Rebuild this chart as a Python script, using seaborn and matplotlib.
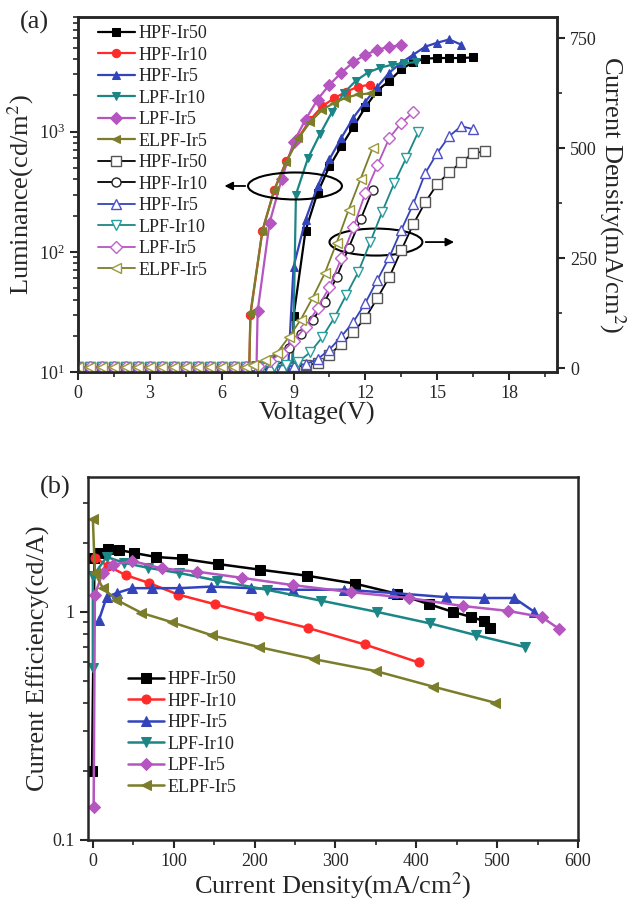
import numpy as np
import pandas as pd
import matplotlib
matplotlib.use('Agg')
import matplotlib.pyplot as plt
from matplotlib.patches import Ellipse
from matplotlib.ticker import MultipleLocator, LogLocator, FixedLocator, NullFormatter, FuncFormatter
import seaborn as sns

sns.set_style('ticks')
plt.rcParams['font.family'] = ['Liberation Serif', 'DejaVu Serif']
plt.rcParams['mathtext.fontset'] = 'stix'

names = ['HPF-Ir50', 'HPF-Ir10', 'HPF-Ir5', 'LPF-Ir10', 'LPF-Ir5', 'ELPF-Ir5']
colors = ['#000000', '#FF2A2A', '#3344BB', '#1C8585', '#B455C0', '#7B7D2A']
open_colors = ['#555555', '#222222', '#5050C8', '#2A9E9E', '#C060C8', '#9A9A3A']
line_open = ['#000000', '#000000', '#3344BB', '#1C8585', '#B455C0', '#7B7D2A']
markers = ['s', 'o', '^', 'v', 'D', '<']

# (a) luminance vs voltage
v_lum = [
    [8.5, 9.0, 9.5, 10.0, 10.5, 11.0, 11.5, 12.0, 12.5, 13.0, 13.5, 14.0, 14.5, 15.0, 15.5, 16.0, 16.5],
    [6.7, 7.2, 7.7, 8.2, 8.7, 9.2, 9.7, 10.2, 10.7, 11.2, 11.7, 12.2],
    [8.5, 9.0, 9.5, 10.0, 10.5, 11.0, 11.5, 12.0, 12.5, 13.0, 13.5, 14.0, 14.5, 15.0, 15.5, 16.0],
    [8.6, 9.1, 9.6, 10.1, 10.6, 11.1, 11.6, 12.1, 12.6, 13.1, 13.6, 14.1],
    [7.0, 7.5, 8.0, 8.5, 9.0, 9.5, 10.0, 10.5, 11.0, 11.5, 12.0, 12.5, 13.0, 13.5],
    [6.7, 7.2, 7.7, 8.2, 8.7, 9.2, 9.7, 10.2, 10.7, 11.2, 11.7, 12.2],
]
lum = [
    [0.001, 29, 150, 310, 515, 760, 1100, 1600, 2200, 2650, 3300, 3800, 4050, 4100, 4100, 4100, 4150],
    [0.001, 30, 150, 330, 570, 890, 1260, 1630, 1900, 2150, 2370, 2460],
    [1, 75, 185, 350, 590, 890, 1310, 1780, 2370, 3100, 3760, 4370, 5100, 5500, 5850, 5300],
    [0.001, 300, 600, 950, 1450, 2100, 2650, 3100, 3400, 3600, 3720, 3780],
    [0.0003, 32, 175, 400, 815, 1260, 1850, 2460, 3100, 3800, 4370, 4800, 5100, 5230],
    [0.001, 31, 150, 330, 560, 880, 1210, 1520, 1740, 1920, 2040, 2080],
]

# (a) current density vs voltage
v_off = [0.0, 0.5, 1.0, 1.5, 2.0, 2.5, 3.0, 3.5, 4.0, 4.5, 5.0, 5.5, 6.0, 6.5, 7.0]
j_off = [2, 2, 2, 2, 2, 2, 2, 2, 2, 2, 2, 2, 2, 2, 2]
v_cur = [
    [7.5, 8.0, 8.5, 9.0, 9.5, 10.0, 10.5, 11.0, 11.5, 12.0, 12.5, 13.0, 13.5, 14.0, 14.5, 15.0, 15.5, 16.0, 16.5, 17.0],
    [7.3, 7.8, 8.3, 8.8, 9.3, 9.8, 10.3, 10.8, 11.3, 11.8, 12.3],
    [7.5, 8.0, 8.5, 9.0, 9.5, 10.0, 10.5, 11.0, 11.5, 12.0, 12.5, 13.0, 13.5, 14.0, 14.5, 15.0, 15.5, 16.0, 16.5],
    [7.7, 8.2, 8.7, 9.2, 9.7, 10.2, 10.7, 11.2, 11.7, 12.2, 12.7, 13.2, 13.7, 14.2],
    [7.5, 8.0, 8.5, 9.0, 9.5, 10.0, 10.5, 11.0, 11.5, 12.0, 12.5, 13.0, 13.5, 14.0],
    [7.3, 7.8, 8.3, 8.8, 9.3, 9.8, 10.3, 10.8, 11.3, 11.8, 12.3],
]
cur = [
    [2, 2, 2, 3, 6, 11, 30, 55, 82, 114, 159, 207, 268, 327, 377, 418, 445, 468, 488, 493],
    [4, 10, 20, 45, 78, 109, 150, 207, 273, 338, 405],
    [2, 2, 3, 5, 9, 20, 42, 72, 105, 148, 200, 252, 314, 373, 443, 489, 527, 550, 543],
    [2, 4, 7, 14, 36, 70, 114, 166, 218, 286, 355, 420, 477, 536],
    [5, 15, 35, 62, 93, 136, 184, 250, 320, 398, 461, 523, 557, 582],
    [8, 18, 34, 70, 110, 160, 215, 285, 360, 430, 500],
]

# (b) current efficiency vs current density
jd = [
    [-1, 2, 8.6, 18.4, 32, 51.5, 78, 110, 155, 207, 265, 324, 376, 416, 445, 468, 484, 491],
    [2.5, 18.4, 40.5, 69, 105.5, 151, 206, 266, 336, 403],
    [7.5, 17, 29.6, 49, 73.5, 107, 146, 196, 248, 311, 371, 437, 484, 521, 546],
    [0, 0, 17, 39, 68, 107, 154, 215, 282, 351, 417, 474, 535],
    [1, 2.5, 12, 25, 49, 85, 129, 184, 247, 319, 391, 458, 513, 555, 577],
    [0, 2.5, 12.4, 29, 60, 98, 147, 206, 274, 350, 421, 497],
]
eff = [
    [0.2, 1.72, 1.81, 1.89, 1.87, 1.81, 1.74, 1.71, 1.62, 1.53, 1.44, 1.33, 1.2, 1.08, 1.0, 0.95, 0.91, 0.85],
    [1.73, 1.59, 1.45, 1.34, 1.19, 1.08, 0.96, 0.85, 0.72, 0.60],
    [0.92, 1.16, 1.21, 1.27, 1.27, 1.27, 1.29, 1.27, 1.25, 1.25, 1.21, 1.16, 1.15, 1.15, 1.0],
    [0.57, 1.43, 1.74, 1.64, 1.56, 1.48, 1.37, 1.25, 1.12, 1.0, 0.89, 0.79, 0.70],
    [0.14, 1.19, 1.48, 1.61, 1.67, 1.55, 1.5, 1.41, 1.31, 1.22, 1.15, 1.06, 1.01, 0.95, 0.84],
    [2.56, 1.48, 1.27, 1.13, 0.99, 0.90, 0.79, 0.70, 0.62, 0.55, 0.47, 0.40],
]

fig = plt.figure(figsize=(6.36, 9.07), dpi=100)
ax = fig.add_axes([78 / 636, 1 - 372 / 907, 479 / 636, 355 / 907])
ax2 = ax.twinx()
axb = fig.add_axes([88 / 636, 1 - 840 / 907, 490 / 636, 363 / 907])

FS_TICK = 13
FS_LAB = 19

# luminance
ax.set_yscale('log')
h_lum = []
for i in range(6):
    sns.lineplot(x=v_lum[i], y=lum[i], ax=ax, color=colors[i], marker=markers[i],
                 markersize=6, markeredgecolor=colors[i], linewidth=1.6,
                 sort=False, estimator=None, legend=False)
    h_lum.append(ax.lines[-1])

# current density, open markers
h_cur = []
for i in range(6):
    sns.lineplot(x=v_off + v_cur[i], y=j_off + cur[i], ax=ax2, color=line_open[i],
                 marker=markers[i], markersize=6.5, markerfacecolor='white',
                 markeredgecolor=open_colors[i], markeredgewidth=1.0, linewidth=1.3,
                 sort=False, estimator=None, legend=False)
    h_cur.append(ax2.lines[-1])

ax.set_xlim(0, 20)
ax.set_ylim(10, 9000)
ax2.set_ylim(-9, 798)
ax.xaxis.set_major_locator(MultipleLocator(3))
ax.xaxis.set_minor_locator(MultipleLocator(1.5))
ax2.yaxis.set_major_locator(MultipleLocator(250))
ax2.yaxis.set_minor_locator(MultipleLocator(125))
ax.yaxis.set_major_locator(LogLocator(base=10, numticks=10))
ax.yaxis.set_minor_locator(LogLocator(base=10, subs=np.arange(2, 10), numticks=20))
ax.yaxis.set_minor_formatter(NullFormatter())

ax.set_xlabel('Voltage(V)', fontsize=FS_LAB, labelpad=0)
ax.set_ylabel('Luminance(cd/m$^2$)', fontsize=FS_LAB, labelpad=2)
ax2.set_ylabel('Current Density(mA/cm$^2$)', fontsize=FS_LAB, rotation=270, labelpad=22)

for a in (ax, ax2, axb):
    for s in a.spines.values():
        s.set_linewidth(1.8)
        s.set_visible(True)
    a.tick_params(which='major', direction='out', length=6, width=1.5, labelsize=FS_TICK)
    a.tick_params(which='minor', direction='out', length=3.5, width=1.2)
ax.tick_params(axis='both', which='both', top=False, right=False)
ax2.tick_params(axis='y', which='both', left=False, right=True)

leg_handles = h_lum + h_cur
leg_labels = names + names
ax2.legend(leg_handles, leg_labels, loc='upper left', bbox_to_anchor=(0.02, 1.008),
           frameon=False, fontsize=13, handlelength=2.0, handletextpad=0.2,
           labelspacing=0.25, borderaxespad=0.2)

# ellipses and arrows
ax.add_patch(Ellipse((0.453, 0.524), 0.196, 0.076, transform=ax.transAxes,
                     fill=False, edgecolor='black', linewidth=1.5, zorder=5))
ax.annotate('', xy=(0.30, 0.524), xytext=(0.355, 0.524), xycoords='axes fraction',
            arrowprops=dict(arrowstyle='-|>', color='black', lw=1.3, mutation_scale=12))
ax.add_patch(Ellipse((0.622, 0.366), 0.194, 0.076, transform=ax.transAxes,
                     fill=False, edgecolor='black', linewidth=1.5, zorder=5))
ax.annotate('', xy=(0.791, 0.366), xytext=(0.72, 0.366), xycoords='axes fraction',
            arrowprops=dict(arrowstyle='-|>', color='black', lw=1.3, mutation_scale=12))

# (b) efficiency
axb.set_yscale('log')
for i in range(6):
    sns.lineplot(x=jd[i], y=eff[i], ax=axb, color=colors[i], marker=markers[i],
                 markersize=6.5, markeredgecolor=colors[i], linewidth=1.8,
                 sort=False, estimator=None, label=names[i])
axb.set_xlim(-6, 600)
axb.set_ylim(0.1, 3.9)
axb.xaxis.set_major_locator(MultipleLocator(100))
axb.xaxis.set_minor_locator(MultipleLocator(50))
axb.yaxis.set_major_locator(FixedLocator([0.1, 1]))
axb.yaxis.set_major_formatter(FuncFormatter(lambda v, p: '0.1' if v < 0.5 else '1'))
axb.yaxis.set_minor_locator(LogLocator(base=10, subs=np.arange(2, 10), numticks=20))
axb.yaxis.set_minor_formatter(NullFormatter())
axb.tick_params(axis='both', which='both', top=False, right=False)
axb.set_xlabel('Current Density(mA/cm$^2$)', fontsize=FS_LAB, labelpad=0)
axb.set_ylabel('Current Efficiency(cd/A)', fontsize=FS_LAB, labelpad=2)
axb.legend(loc='upper left', bbox_to_anchor=(0.06, 0.495), frameon=False, fontsize=13,
           handlelength=2.0, handletextpad=0.2, labelspacing=0.25, borderaxespad=0.2)

fig.text(20 / 636, 1 - 22 / 907, '(a)', fontsize=FS_LAB, va='center', ha='left')
fig.text(40 / 636, 1 - 487 / 907, '(b)', fontsize=FS_LAB, va='center', ha='left')

fig.savefig('out.png', dpi=100)
